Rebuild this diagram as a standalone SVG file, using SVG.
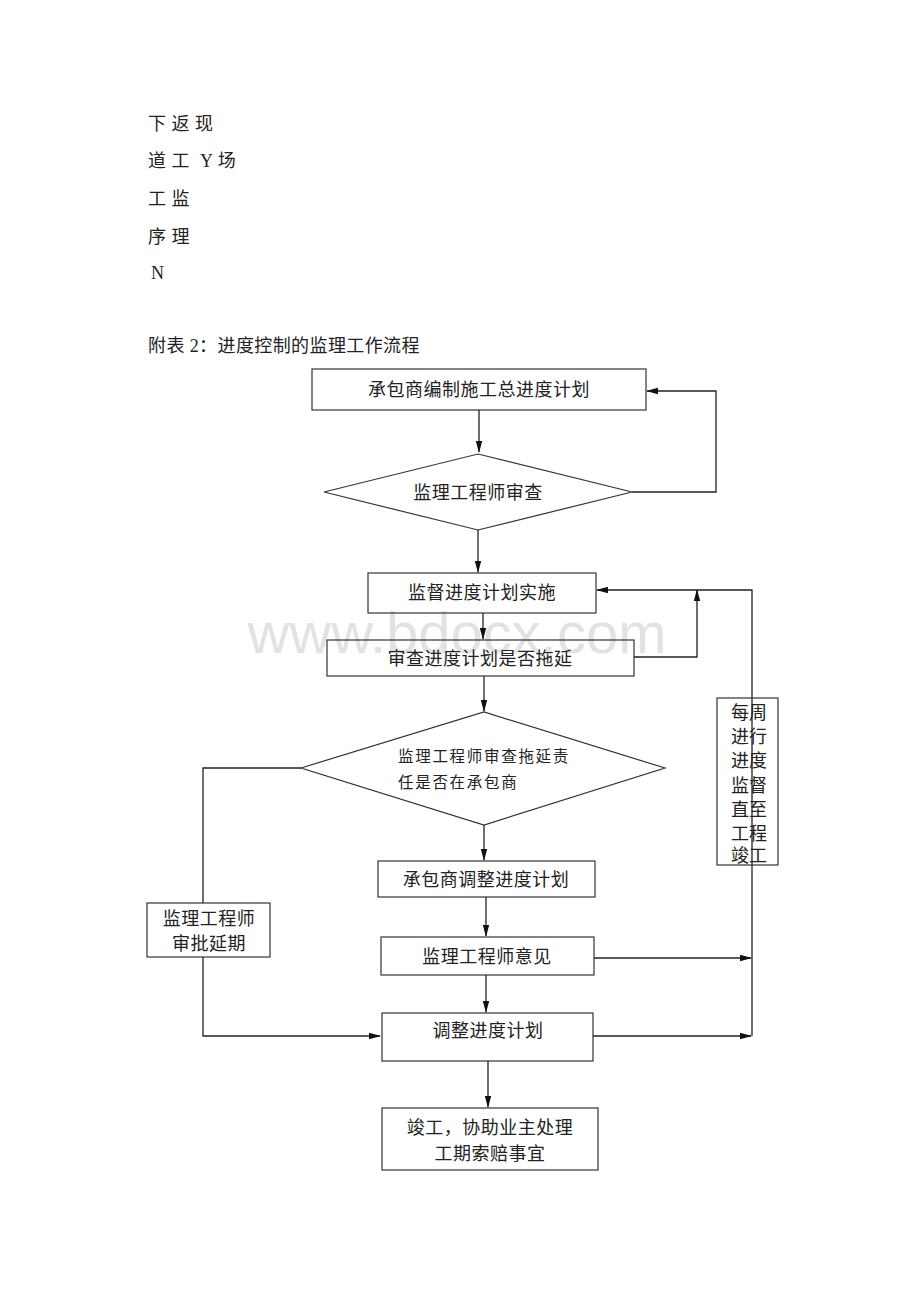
<svg xmlns="http://www.w3.org/2000/svg" width="920" height="1302" viewBox="0 0 920 1302">
<defs>
<marker id="ah" markerWidth="12" markerHeight="8" refX="11" refY="4" orient="auto" markerUnits="userSpaceOnUse">
<path d="M0,0.8 L12,4 L0,7.2 Z" fill="#111"/>
</marker>
<style>
text{font-family:"Liberation Serif","Noto Sans CJK SC",serif;fill:#222;}
.t{font-size:18px;letter-spacing:0.5px;}
.v{font-size:18px;letter-spacing:0;}
.s{font-size:15.5px;letter-spacing:1.7px;}
.n rect,.n polygon{fill:none;stroke:#333;stroke-width:1.2;}
.c path{fill:none;stroke:#222;stroke-width:1.3;}
.a{marker-end:url(#ah);}
</style>
</defs>
<rect width="920" height="1302" fill="#fff"/>
<text x="457" y="653" text-anchor="middle" style="font-family:'Liberation Sans',sans-serif;font-size:58px;fill:#e2e2e2">www.bdocx.com</text>
<g id="header">
<text class="t" x="148" y="130">下 返 现</text>
<text class="t" x="148" y="167" xml:space="preserve">道 工  Y 场</text>
<text class="t" x="148" y="205">工 监</text>
<text class="t" x="148" y="243">序 理</text>
<text class="t" x="151" y="279">N</text>
<text class="t" x="148" y="352" style="letter-spacing:0.4px">附表 2：进度控制的监理工作流程</text>
</g>
<g class="c" id="connectors">
<path class="a" d="M479,410 V452"/>
<path class="a" d="M632,492 H716 V391 H647"/>
<path class="a" d="M478,530 V572"/>
<path class="a" d="M483,613 V639"/>
<path class="a" d="M634,657 H697 V590"/>
<path class="a" d="M752,1036 V590 H597"/>
<path class="a" d="M484,676 V711"/>
<path d="M301,768 H203 V903"/>
<path class="a" d="M203,957 V1036 H380"/>
<path class="a" d="M484,825 V860"/>
<path class="a" d="M486,897 V936"/>
<path class="a" d="M594,958 H751"/>
<path class="a" d="M486,975 V1012"/>
<path class="a" d="M593,1036 H751"/>
<path class="a" d="M488,1061 V1107"/>
</g>
<g class="n" id="n1"><rect x="312" y="369" width="334" height="41"/><text class="t" x="479" y="396" text-anchor="middle">承包商编制施工总进度计划</text></g>
<g class="n" id="n2"><polygon points="324,492 478,454 632,492 478,530"/><text class="t" x="478" y="499" text-anchor="middle">监理工程师审查</text></g>
<g class="n" id="n3"><rect x="368" y="573" width="228" height="40"/><text class="t" x="482" y="599" text-anchor="middle">监督进度计划实施</text></g>
<g class="n" id="n4"><rect x="327" y="640" width="307" height="36"/><text class="t" x="480" y="665" text-anchor="middle">审查进度计划是否拖延</text></g>
<g class="n" id="n5"><polygon points="301,768 484,712 665,768 484,825"/><text class="s" x="398" y="762">监理工程师审查拖延责</text><text class="s" x="398" y="788">任是否在承包商</text></g>
<g class="n" id="n6"><rect x="717" y="698" width="61" height="167"/>
<text class="v" x="731" y="719">每周</text><text class="v" x="731" y="743">进行</text><text class="v" x="731" y="767">进度</text><text class="v" x="731" y="792">监督</text><text class="v" x="731" y="816">直至</text><text class="v" x="731" y="840">工程</text><text class="v" x="731" y="862">竣工</text></g>
<g class="n" id="n7"><rect x="147" y="903" width="123" height="54"/><text class="t" x="209" y="925" text-anchor="middle">监理工程师</text><text class="t" x="209" y="950" text-anchor="middle">审批延期</text></g>
<g class="n" id="n8"><rect x="378" y="861" width="217" height="36"/><text class="t" x="486" y="886" text-anchor="middle">承包商调整进度计划</text></g>
<g class="n" id="n9"><rect x="381" y="937" width="213" height="38"/><text class="t" x="487" y="963" text-anchor="middle">监理工程师意见</text></g>
<g class="n" id="n10"><rect x="382" y="1013" width="211" height="48"/><text class="t" x="488" y="1037" text-anchor="middle">调整进度计划</text></g>
<g class="n" id="n11"><rect x="382" y="1108" width="216" height="62"/><text class="t" x="490" y="1134" text-anchor="middle">竣工，协助业主处理</text><text class="t" x="490" y="1160" text-anchor="middle">工期索赔事宜</text></g>
</svg>
